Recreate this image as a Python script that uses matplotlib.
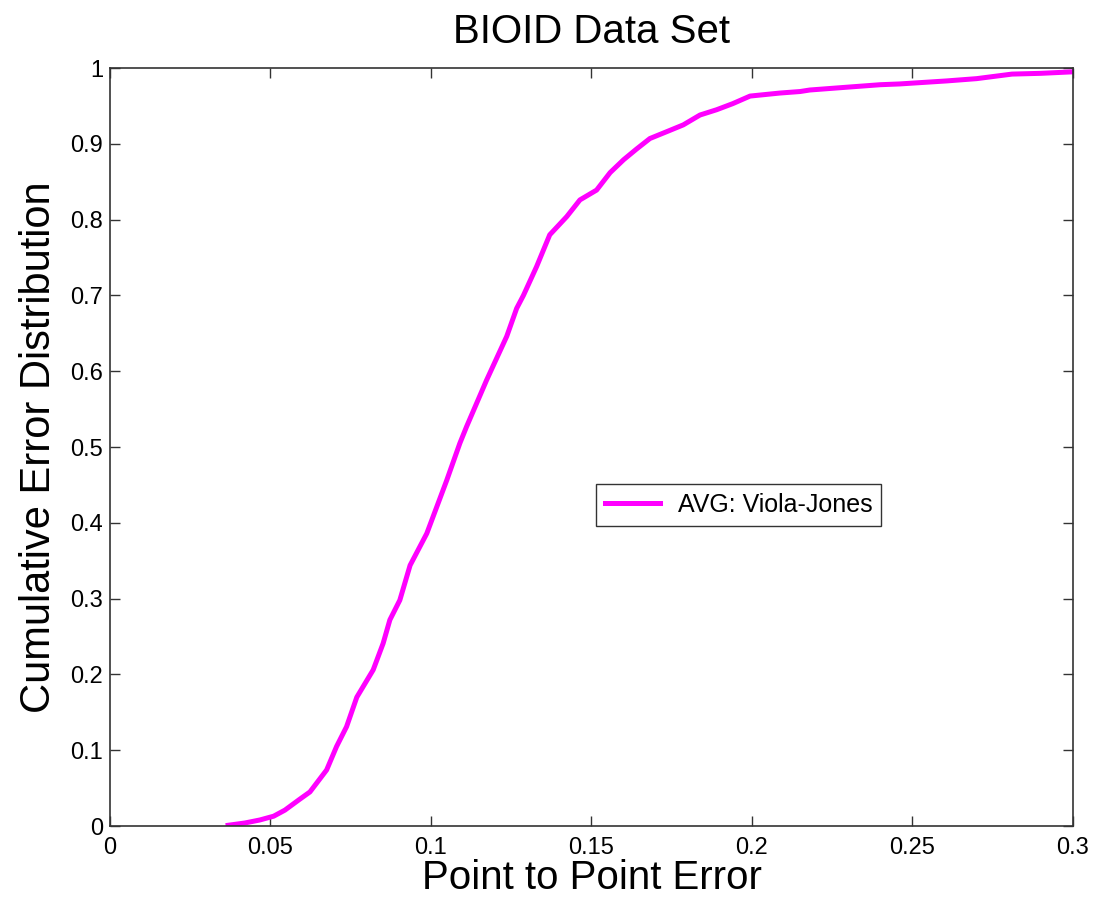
import matplotlib
matplotlib.use('Agg')
import matplotlib.pyplot as plt

plt.rcParams['font.family'] = ['Liberation Sans', 'DejaVu Sans']

# cumulative error curve
err = [0.0368, 0.0420, 0.0467, 0.0510, 0.0545, 0.0590, 0.0623, 0.0675, 0.0706, 0.0737,
       0.0769, 0.0820, 0.0851, 0.0872, 0.0903, 0.0935, 0.0987, 0.1049, 0.1090, 0.1111,
       0.1173, 0.1236, 0.1267, 0.1288, 0.1329, 0.1370, 0.1423, 0.1464, 0.1516, 0.1558,
       0.1600, 0.1640, 0.1682, 0.1740, 0.1786, 0.1838, 0.1890, 0.1940, 0.1994, 0.2087,
       0.2150, 0.2180, 0.2305, 0.2400, 0.2460, 0.2607, 0.2700, 0.2810, 0.2900, 0.3000]
cum = [0.001, 0.004, 0.008, 0.013, 0.021, 0.035, 0.045, 0.074, 0.105, 0.131,
       0.170, 0.206, 0.241, 0.272, 0.298, 0.344, 0.386, 0.456, 0.505, 0.527,
       0.588, 0.646, 0.683, 0.700, 0.738, 0.780, 0.804, 0.826, 0.839, 0.862,
       0.879, 0.893, 0.907, 0.917, 0.925, 0.938, 0.945, 0.953, 0.963, 0.967,
       0.969, 0.971, 0.975, 0.978, 0.979, 0.983, 0.986, 0.992, 0.993, 0.995]

fig = plt.figure(figsize=(10.93, 9.01), dpi=100)
ax = fig.add_axes([0.1006, 0.0832, 0.8811, 0.8413])

ax.plot(err, cum, color='#ff00ff', linewidth=3.6, label='AVG: Viola-Jones')

ax.set_xlim(0, 0.3)
ax.set_ylim(0, 1)
ax.set_xticks([0, 0.05, 0.1, 0.15, 0.2, 0.25, 0.3])
ax.set_xticklabels(['0', '0.05', '0.1', '0.15', '0.2', '0.25', '0.3'])
ax.set_yticks([i / 10 for i in range(11)])
ax.set_yticklabels(['0', '0.1', '0.2', '0.3', '0.4', '0.5', '0.6', '0.7', '0.8', '0.9', '1'])
ax.tick_params(direction='in', top=True, right=True, length=7, width=1,
               labelsize=17, color='#333333')
ax.tick_params(axis='x', pad=8)
ax.tick_params(axis='y', pad=5)
for s in ax.spines.values():
    s.set_color('#333333')
    s.set_linewidth(1.2)

ax.set_title('BIOID Data Set', fontsize=29, pad=18)
ax.set_xlabel('Point to Point Error', fontsize=29, labelpad=0)
ax.set_ylabel('Cumulative Error Distribution', fontsize=30, labelpad=8)

leg = ax.legend(loc='lower left', bbox_to_anchor=(0.505, 0.396), borderaxespad=0,
                fancybox=False, edgecolor='#333333', fontsize=18, handlelength=2.2,
                handletextpad=0.7, borderpad=0.35, framealpha=1)
leg.get_frame().set_linewidth(1.0)

plt.savefig('out.png', dpi=100)
